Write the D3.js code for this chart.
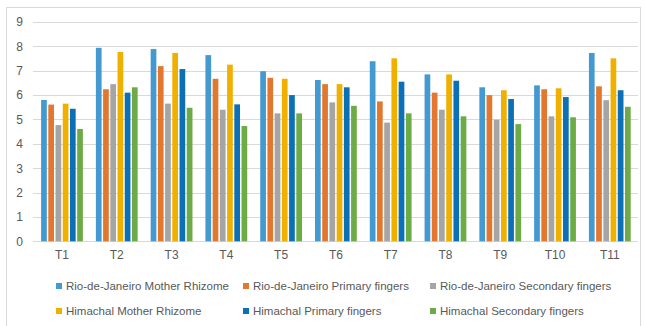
<!DOCTYPE html>
<html>
<head>
<meta charset="utf-8">
<script src="https://cdn.jsdelivr.net/npm/d3@7"></script>
<style>
  html, body { margin: 0; padding: 0; background: #fff; }
  svg { display: block; }
  text { font-family: "Liberation Sans", Arial, sans-serif; fill: #595959; }
</style>
</head>
<body>
<svg id="chart" width="645" height="326"></svg>
<script>
// Treatments on the x axis
const categories = ["T1","T2","T3","T4","T5","T6","T7","T8","T9","T10","T11"];

// One array per series, in treatment order
const rioMother      = [5.80, 7.94, 7.89, 7.64, 6.98, 6.62, 7.39, 6.85, 6.32, 6.40, 7.73];
const rioPrimary     = [5.61, 6.24, 7.19, 6.67, 6.71, 6.45, 5.74, 6.10, 6.00, 6.24, 6.36];
const rioSecondary   = [4.77, 6.45, 5.65, 5.40, 5.25, 5.70, 4.87, 5.40, 4.99, 5.13, 5.79];
const himMother      = [5.65, 7.77, 7.73, 7.25, 6.67, 6.45, 7.51, 6.85, 6.20, 6.28, 7.51];
const himPrimary     = [5.44, 6.10, 7.07, 5.62, 6.00, 6.32, 6.55, 6.59, 5.84, 5.92, 6.20];
const himSecondary   = [4.61, 6.32, 5.48, 4.73, 5.25, 5.56, 5.25, 5.13, 4.81, 5.09, 5.52];

const seriesNames = [
  "Rio-de-Janeiro Mother Rhizome",
  "Rio-de-Janeiro Primary fingers",
  "Rio-de-Janeiro Secondary fingers",
  "Himachal Mother Rhizome",
  "Himachal Primary fingers",
  "Himachal Secondary fingers"
];
const seriesColors = ["#4499D0", "#E2782F", "#A5A5A5", "#F0B000", "#0C70B6", "#6DAB46"];
const yTicks = [0,1,2,3,4,5,6,7,8,9];

const seriesValues = [rioMother, rioPrimary, rioSecondary, himMother, himPrimary, himSecondary];

const svg = d3.select("#chart");

// Chart frame
svg.append("rect")
  .attr("x", 6.5).attr("y", 7.5)
  .attr("width", 634).attr("height", 330)
  .attr("fill", "none").attr("stroke", "#D9D9D9");

const plot = { left: 34.6, right: 637.2, top: 22, bottom: 241.3 };

const y = d3.scaleLinear().domain([0, 9]).range([plot.bottom, plot.top]);
const x0 = d3.scaleBand().domain(categories).range([plot.left, plot.right]).padding(0);
const x1 = d3.scaleBand().domain(d3.range(seriesNames.length))
  .range([6.5, x0.bandwidth() - 6.5]).paddingInner(0.21).paddingOuter(0);

// Horizontal gridlines
svg.append("g")
  .selectAll("line")
  .data(yTicks)
  .join("line")
  .attr("x1", 33).attr("x2", 638)
  .attr("y1", d => Math.round(y(d)) + 0.5)
  .attr("y2", d => Math.round(y(d)) + 0.5)
  .attr("stroke", "#D9D9D9").attr("stroke-width", 1);

// Y axis labels
const yAxis = d3.axisLeft(y).tickValues(yTicks).tickSize(0).tickPadding(0);
svg.append("g")
  .attr("transform", "translate(23,0)")
  .call(yAxis)
  .call(g => g.select(".domain").remove())
  .call(g => g.selectAll("text")
    .attr("font-size", 12)
    .attr("font-family", "Liberation Sans, Arial, sans-serif")
    .attr("fill", "#595959"));

// Bars
const groups = svg.append("g")
  .selectAll("g")
  .data(categories)
  .join("g")
  .attr("transform", d => `translate(${x0(d)},0)`);

groups.selectAll("rect")
  .data((c, i) => seriesValues.map((vals, s) => ({ s, v: vals[i] })))
  .join("rect")
  .attr("x", d => x1(d.s))
  .attr("width", x1.bandwidth())
  .attr("y", d => y(d.v))
  .attr("height", d => y(0) - y(d.v))
  .attr("fill", d => seriesColors[d.s]);

// X axis labels
const xAxis = d3.axisBottom(x0).tickSize(0).tickPadding(0);
svg.append("g")
  .attr("transform", `translate(0,${plot.bottom + 9})`)
  .call(xAxis)
  .call(g => g.select(".domain").remove())
  .call(g => g.selectAll("text")
    .attr("font-size", 12)
    .attr("font-family", "Liberation Sans, Arial, sans-serif")
    .attr("fill", "#595959"));

// Legend: two rows of three entries
const legendCols = [56, 243, 430];
const legendRows = [286, 311];
const legend = svg.append("g")
  .selectAll("g")
  .data(seriesNames)
  .join("g")
  .attr("transform", (d, i) => `translate(${legendCols[i % 3]},${legendRows[Math.floor(i / 3)]})`);

legend.append("rect")
  .attr("x", 0).attr("y", -3)
  .attr("width", 6).attr("height", 6)
  .attr("fill", (d, i) => seriesColors[i]);

legend.append("text")
  .attr("x", 10).attr("y", 0)
  .attr("dy", "0.35em")
  .attr("font-size", 11.5)
  .text(d => d);
</script>
</body>
</html>
